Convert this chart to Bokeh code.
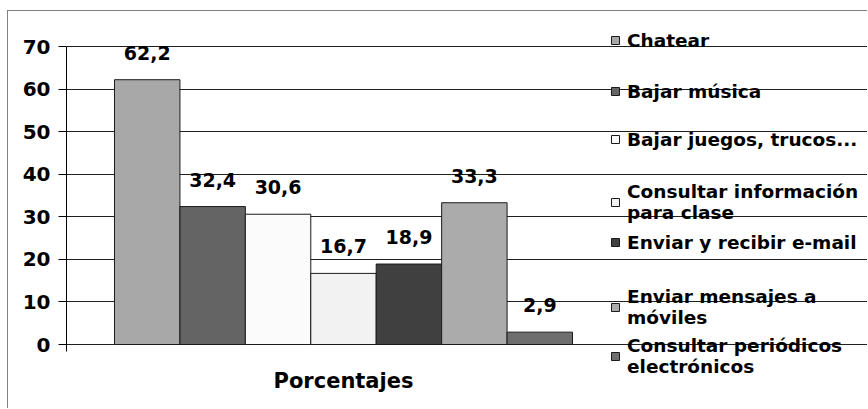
from bokeh.plotting import figure
from bokeh.models import (Range1d, FixedTicker, Legend, LegendItem, ColumnDataSource,
                          LinearAxis, Grid)
from bokeh.core.properties import value
from bokeh.embed import file_html
from bokeh.resources import INLINE

# ---- data ----
categories = ["Chatear", "Bajar música", "Bajar juegos, trucos...",
              "Consultar información\npara clase", "Enviar y recibir e-mail",
              "Enviar mensajes a\nmóviles", "Consultar periódicos\nelectrónicos"]
values = [62.2, 32.4, 30.6, 16.7, 18.9, 33.3, 2.9]
colors = ["#a8a8a8", "#646464", "#fbfbfb", "#f2f2f2", "#404040", "#ababab", "#6e6e6e"]
group_label = "Porcentajes"
y_ticks = [0, 10, 20, 30, 40, 50, 60, 70]

# ---- layout (canvas pixels) ----
FONT = "DejaVu Sans"
W, H = 860, 398
FRAME_L, FRAME_R, FRAME_T, FRAME_B = 58, 860, 15, 398
Y0_PX, YMAX_PX = 333, 35          # where 0 and 70 sit
BAR_L_PX, BAR_R_PX, GRID_R_PX = 106, 564, 590
legend_first_line = [29, 80, 128, 177, 231, 282, 331]   # canvas px (centre of first text line)
LEGEND_X_PX = 602
LABEL_Y_PX = 369

n = len(values)
ppu_y = (Y0_PX - YMAX_PX) / y_ticks[-1]
y_start = -(FRAME_B - Y0_PX) / ppu_y
y_end = y_ticks[-1] + (YMAX_PX - FRAME_T) / ppu_y
ppu_x = (BAR_R_PX - BAR_L_PX) / n
x_start = -0.5 - (BAR_L_PX - FRAME_L) / ppu_x
x_end = x_start + (FRAME_R - FRAME_L) / ppu_x
grid_right = x_start + (GRID_R_PX - FRAME_L) / ppu_x

idx = list(range(n))
labels = [f"{v:.1f}".replace(".", ",") for v in values]
src = ColumnDataSource(dict(x=idx, top=values, color=colors, lab=labels))

p = figure(width=W, height=H,
           x_range=Range1d(x_start, x_end), y_range=Range1d(y_start, y_end),
           output_backend="svg", toolbar_location=None,
           min_border_left=FRAME_L, min_border_top=FRAME_T,
           min_border_bottom=0, min_border_right=0,
           x_axis_type=None, y_axis_type=None)
p.styles = {"border-left": "1px solid #808080", "border-top": "1px solid #808080",
            "margin-top": "10px", "margin-left": "7px"}
p.outline_line_color = None
p.background_fill_color = "white"
p.border_fill_color = "white"

# y axis
yax = LinearAxis(ticker=FixedTicker(ticks=y_ticks), bounds=(-7 / ppu_y, y_ticks[-1]))
yax.major_tick_out = 8
yax.major_tick_in = 0
yax.minor_tick_line_color = None
yax.major_tick_line_color = "black"
yax.axis_line_color = "black"
yax.major_label_text_font = FONT
yax.major_label_text_font_style = "bold"
yax.major_label_text_font_size = "20px"
yax.major_label_text_color = "black"
yax.major_label_standoff = 8
p.add_layout(yax, "left")

grid = Grid(dimension=1, ticker=FixedTicker(ticks=y_ticks), bounds=(x_start, grid_right),
            grid_line_color="#202020", grid_line_width=1)
p.add_layout(grid, "center")

bars = p.vbar(x="x", top="top", width=1.0, source=src, fill_color="color",
              line_color="#1a1a1a", line_width=1)

p.text(x="x", y="top", text="lab", source=src, text_align="center",
       text_baseline="middle", y_offset=-27, text_font=value(FONT),
       text_font_style="bold", text_font_size="19px", text_color="black")

# category (group) label under the bars
center = (idx[0] + idx[-1]) / 2
p.text(x=[center], y=[-(LABEL_Y_PX - Y0_PX) / ppu_y], text=[group_label],
       text_align="center", text_baseline="middle", text_font=value(FONT),
       text_font_style="bold", text_font_size="21px", text_color="black")

for i, c in enumerate(categories):
    nlines = c.count("\n") + 1
    bottom = legend_first_line[i] + 11 + 24 * (nlines - 1)
    lg = Legend(items=[LegendItem(label=c, renderers=[bars], index=i)],
                location=(LEGEND_X_PX - FRAME_L, FRAME_B - bottom))
    lg.border_line_color = None
    lg.background_fill_alpha = 0
    lg.glyph_width = 10
    lg.glyph_height = 10
    lg.label_standoff = 7
    lg.label_text_font = FONT
    lg.label_text_font_style = "bold"
    lg.label_text_font_size = "18.5px"
    lg.label_text_color = "black"
    lg.label_height = 22
    lg.padding = 0
    lg.margin = 0
    p.add_layout(lg, "center")

open("out.html", "w").write(file_html(p, INLINE))
